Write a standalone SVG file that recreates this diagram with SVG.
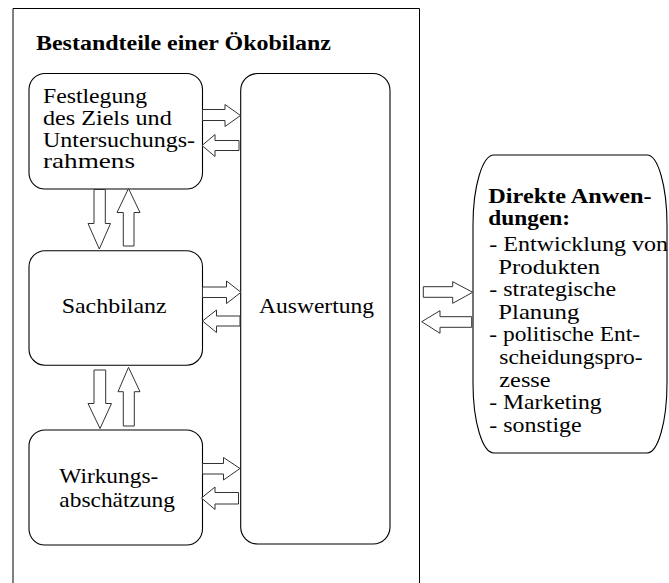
<svg xmlns="http://www.w3.org/2000/svg" width="669" height="583" viewBox="0 0 669 583">
<style>
.box{fill:#fff;stroke:#000;stroke-width:1.1}
.frame{fill:none;stroke:#000;stroke-width:1}
.arr{fill:#fff;stroke:#333;stroke-width:1}
.t{font-size:21px;fill:#000}
.b{font-weight:bold}
.s{font-size:20px}
</style>
<rect width="669" height="583" fill="#fff"/>
<g font-family="'Liberation Serif', 'Times New Roman', Times, serif">
<g id="frame">
<path class="frame" d="M13,583 V8.5 H419.5 V583"/>
<text class="t b" x="36" y="50" textLength="295" lengthAdjust="spacingAndGlyphs">Bestandteile einer Ökobilanz</text>
</g>
<g id="festlegung">
<rect class="box" x="29" y="73.5" width="173.5" height="115.5" rx="16" ry="16"/>
<text class="t" x="43" y="103.3" textLength="104" lengthAdjust="spacingAndGlyphs">Festlegung</text>
<text class="t" x="43" y="125" textLength="128.7" lengthAdjust="spacingAndGlyphs">des Ziels und</text>
<text class="t" x="43" y="146.7" textLength="152" lengthAdjust="spacingAndGlyphs">Untersuchungs-</text>
<text class="t" x="43" y="168.3" textLength="92" lengthAdjust="spacingAndGlyphs">rahmens</text>
</g>
<g id="sachbilanz">
<rect class="box" x="29" y="250.7" width="173.5" height="114.5" rx="16" ry="16"/>
<text class="t" x="61.7" y="312.7" textLength="105" lengthAdjust="spacingAndGlyphs">Sachbilanz</text>
</g>
<g id="wirkungsabschaetzung">
<rect class="box" x="29" y="430" width="173.5" height="115" rx="16" ry="16"/>
<text class="t" x="59.3" y="483.3" textLength="99" lengthAdjust="spacingAndGlyphs">Wirkungs-</text>
<text class="t" x="59.3" y="507" textLength="115.7" lengthAdjust="spacingAndGlyphs">abschätzung</text>
</g>
<g id="auswertung">
<rect class="box" x="240.7" y="73.5" width="149.3" height="470.5" rx="17" ry="17"/>
<text class="t" x="259" y="313" textLength="115" lengthAdjust="spacingAndGlyphs">Auswertung</text>
</g>
<g id="anwendungen">
<path class="box" d="M494,155 H647 A20,70 0 0 1 667,225 V383 A20,70 0 0 1 647,453 H494 A21,70 0 0 1 473,383 V225 A21,70 0 0 1 494,155 Z"/>
<text class="t b s" x="488.3" y="202.5" textLength="163.3" lengthAdjust="spacingAndGlyphs">Direkte Anwen-</text>
<text class="t b s" x="488.3" y="224.8" textLength="81.7" lengthAdjust="spacingAndGlyphs">dungen:</text>
<text class="t" x="489.3" y="251" textLength="178.7" lengthAdjust="spacingAndGlyphs">- Entwicklung von</text>
<text class="t" x="498.3" y="273.6" textLength="101.7" lengthAdjust="spacingAndGlyphs">Produkten</text>
<text class="t" x="489.3" y="296.2" textLength="126.7" lengthAdjust="spacingAndGlyphs">- strategische</text>
<text class="t" x="498.3" y="318.8" textLength="81" lengthAdjust="spacingAndGlyphs">Planung</text>
<text class="t" x="489.3" y="341.4" textLength="150.7" lengthAdjust="spacingAndGlyphs">- politische Ent-</text>
<text class="t" x="499.3" y="364" textLength="143.3" lengthAdjust="spacingAndGlyphs">scheidungspro-</text>
<text class="t" x="499.3" y="386.6" textLength="51.3" lengthAdjust="spacingAndGlyphs">zesse</text>
<text class="t" x="489.3" y="409.2" textLength="112.3" lengthAdjust="spacingAndGlyphs">- Marketing</text>
<text class="t" x="489.3" y="431.8" textLength="92.3" lengthAdjust="spacingAndGlyphs">- sonstige</text>
</g>
</g>
<g id="connectors">
<polygon class="arr" points="202.5,109.5 225,109.5 225,104.5 240.5,115.5 225,126.5 225,120.5 202.5,120.5"/>
<polygon class="arr" points="239,140.5 215,140.5 215,134.5 202,145.5 215,156.5 215,150.5 239,150.5"/>
<polygon class="arr" points="202.5,287 226.5,287 226.5,281 241,292.3 226.5,303.5 226.5,297.5 202.5,297.5"/>
<polygon class="arr" points="240,316 216.5,316 216.5,310 202.5,321 216.5,332.5 216.5,326 240,326"/>
<polygon class="arr" points="202.5,463.5 223.5,463.5 223.5,457.5 240,468.5 223.5,480 223.5,474 202.5,474"/>
<polygon class="arr" points="238.5,492.5 215,492.5 215,487 201.5,498 215,509.5 215,504 238.5,504"/>
<polygon class="arr" points="423.3,286.7 452.7,286.7 452.7,281.7 472.7,292.3 452.7,303.3 452.7,297.3 423.3,297.3"/>
<polygon class="arr" points="471.7,316.7 440,316.7 440,310.7 421.7,321.7 440,333.3 440,327.3 471.7,327.3"/>
<polygon class="arr" points="94,189.5 105.3,189.5 105.3,223.5 110.5,223.5 99.3,249 88,223.5 94,223.5"/>
<polygon class="arr" points="123.3,246 134,246 134,212.5 140,212.5 128.5,188.5 117,212.5 123.3,212.5"/>
<polygon class="arr" points="94,370 105.7,370 105.7,403.5 111.5,403.5 100,428.5 88,403.5 94,403.5"/>
<polygon class="arr" points="123.3,426 134.3,426 134.3,391.7 140,391.7 128.5,367.3 118,391.7 123.3,391.7"/>
</g>
</svg>
